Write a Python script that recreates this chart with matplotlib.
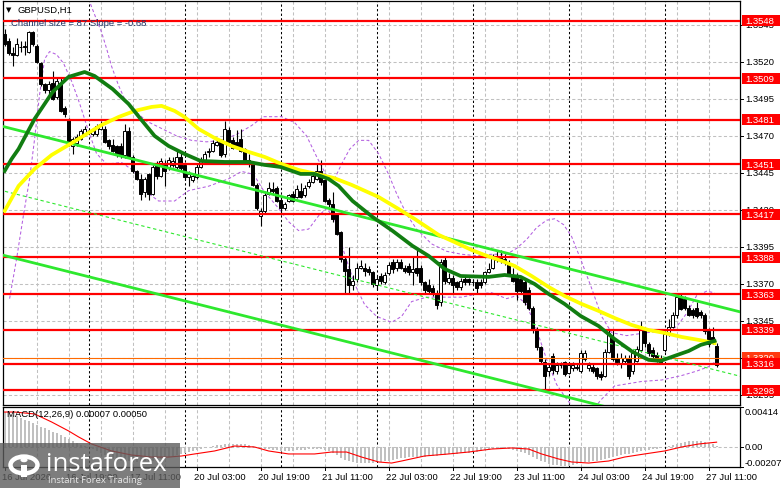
import matplotlib
matplotlib.use('Agg')
import matplotlib.pyplot as plt
import matplotlib.transforms as mtrans
from matplotlib.patches import Rectangle, Circle
import numpy as np

# ---------------- DATA ----------------
opens = [
1.3539,1.3534,1.3526,1.3525,1.3530,1.3531,1.3527,1.3540,1.3531,1.3519,
1.3505,1.3501,1.3506,1.3496,1.3506,1.3489,1.3481,1.3463,1.3465,1.3468,
1.3471,1.3472,1.3471,1.3471,1.3475,1.3475,1.3467,1.3464,1.3463,1.3463,
1.3457,1.3473,1.3456,1.3446,1.3441,1.3432,1.3444,1.3431,1.3452,1.3443,
1.3450,1.3449,1.3450,1.3449,1.3456,1.3450,1.3442,1.3440,1.3442,1.3449,
1.3453,1.3459,1.3460,1.3464,1.3466,1.3458,1.3474,1.3467,1.3466,1.3468,
1.3461,1.3454,1.3452,1.3437,1.3416,1.3419,1.3431,1.3434,1.3435,1.3427,
1.3421,1.3426,1.3431,1.3429,1.3433,1.3430,1.3436,1.3439,1.3441,1.3446,
1.3440,1.3427,1.3424,1.3417,1.3405,1.3387,1.3380,1.3369,1.3373,1.3381,
1.3381,1.3380,1.3378,1.3369,1.3375,1.3371,1.3377,1.3385,1.3381,1.3385,
1.3381,1.3382,1.3378,1.3381,1.3381,1.3371,1.3369,1.3367,1.3364,1.3358,
1.3386,1.3371,1.3374,1.3371,1.3368,1.3373,1.3373,1.3371,1.3371,1.3371,
1.3371,1.3378,1.3381,1.3386,1.3388,1.3387,1.3384,1.3376,1.3375,1.3373,
1.3371,1.3366,1.3354,1.3339,1.3327,1.3317,1.3311,1.3321,1.3311,1.3315,
1.3317,1.3310,1.3313,1.3314,1.3311,1.3319,1.3313,1.3314,1.3313,1.3309,
1.3308,1.3324,1.3334,1.3320,1.3316,1.3318,1.3320,1.3311,1.3318,1.3325,
1.3339,1.3329,1.3325,1.3322,1.3320,1.3325,1.3336,1.3341,1.3349,1.3361,
1.3360,1.3354,1.3352,1.3354,1.3351,1.3349,1.3338,1.3334,1.3328]
highs = [
1.3542,1.3536,1.3530,1.3536,1.3534,1.3534,1.3541,1.3541,1.3532,1.3520,
1.3506,1.3507,1.3514,1.3510,1.3510,1.3490,1.3482,1.3469,1.3471,1.3475,
1.3477,1.3474,1.3475,1.3478,1.3480,1.3477,1.3468,1.3468,1.3464,1.3465,
1.3478,1.3476,1.3457,1.3447,1.3444,1.3442,1.3445,1.3450,1.3453,1.3455,
1.3454,1.3456,1.3456,1.3461,1.3460,1.3451,1.3446,1.3445,1.3451,1.3456,
1.3460,1.3462,1.3467,1.3468,1.3468,1.3480,1.3476,1.3469,1.3474,1.3475,
1.3462,1.3458,1.3453,1.3438,1.3421,1.3432,1.3439,1.3439,1.3436,1.3429,
1.3425,1.3431,1.3433,1.3437,1.3438,1.3437,1.3441,1.3445,1.3452,1.3454,
1.3441,1.3428,1.3432,1.3418,1.3406,1.3389,1.3395,1.3376,1.3384,1.3386,
1.3384,1.3382,1.3379,1.3375,1.3377,1.3378,1.3385,1.3387,1.3387,1.3387,
1.3383,1.3384,1.3389,1.3393,1.3383,1.3372,1.3373,1.3369,1.3366,1.3387,
1.3389,1.3377,1.3376,1.3372,1.3374,1.3375,1.3374,1.3373,1.3373,1.3373,
1.3379,1.3384,1.3390,1.3392,1.3393,1.3390,1.3386,1.3381,1.3377,1.3375,
1.3373,1.3368,1.3355,1.3341,1.3328,1.3319,1.3316,1.3323,1.3317,1.3317,
1.3318,1.3316,1.3317,1.3316,1.3325,1.3325,1.3317,1.3316,1.3314,1.3311,
1.3326,1.3339,1.3339,1.3323,1.3323,1.3322,1.3322,1.3325,1.3328,1.3345,
1.3341,1.3331,1.3327,1.3324,1.3322,1.3338,1.3346,1.3351,1.3363,1.3363,
1.3362,1.3356,1.3354,1.3358,1.3352,1.3350,1.3340,1.3341,1.3330]
lows = [
1.3531,1.3525,1.3517,1.3524,1.3527,1.3525,1.3526,1.3531,1.3519,1.3504,
1.3499,1.3496,1.3494,1.3495,1.3486,1.3483,1.3463,1.3458,1.3463,1.3467,
1.3470,1.3471,1.3470,1.3470,1.3474,1.3465,1.3461,1.3459,1.3456,1.3455,
1.3455,1.3455,1.3445,1.3440,1.3427,1.3429,1.3427,1.3430,1.3441,1.3442,
1.3436,1.3447,1.3449,1.3447,1.3446,1.3440,1.3436,1.3439,1.3441,1.3448,
1.3452,1.3456,1.3459,1.3463,1.3456,1.3456,1.3464,1.3461,1.3461,1.3459,
1.3451,1.3449,1.3436,1.3420,1.3409,1.3418,1.3430,1.3430,1.3425,1.3419,
1.3420,1.3425,1.3425,1.3428,1.3428,1.3429,1.3435,1.3438,1.3440,1.3437,
1.3425,1.3422,1.3412,1.3403,1.3385,1.3363,1.3364,1.3366,1.3371,1.3380,
1.3375,1.3376,1.3368,1.3366,1.3370,1.3370,1.3376,1.3377,1.3379,1.3380,
1.3377,1.3376,1.3369,1.3375,1.3369,1.3364,1.3363,1.3362,1.3353,1.3355,
1.3370,1.3370,1.3364,1.3366,1.3366,1.3369,1.3369,1.3369,1.3364,1.3367,
1.3370,1.3377,1.3380,1.3385,1.3384,1.3383,1.3375,1.3371,1.3359,1.3364,
1.3356,1.3352,1.3337,1.3325,1.3316,1.3297,1.3308,1.3309,1.3309,1.3313,
1.3308,1.3309,1.3311,1.3312,1.3310,1.3318,1.3311,1.3310,1.3306,1.3305,
1.3307,1.3323,1.3318,1.3315,1.3313,1.3316,1.3306,1.3309,1.3317,1.3324,
1.3327,1.3321,1.3319,1.3317,1.3316,1.3324,1.3335,1.3340,1.3347,1.3352,
1.3352,1.3348,1.3347,1.3347,1.3347,1.3336,1.3327,1.3329,1.3314]
closes = [
1.3532,1.3526,1.3525,1.3532,1.3530,1.3530,1.3540,1.3532,1.3520,1.3505,
1.3501,1.3505,1.3495,1.3507,1.3487,1.3485,1.3465,1.3468,1.3469,1.3473,
1.3475,1.3472,1.3473,1.3477,1.3478,1.3466,1.3463,1.3460,1.3457,1.3457,
1.3473,1.3456,1.3446,1.3441,1.3431,1.3441,1.3431,1.3449,1.3443,1.3453,
1.3446,1.3454,1.3453,1.3456,1.3448,1.3442,1.3444,1.3443,1.3449,1.3453,
1.3458,1.3460,1.3465,1.3466,1.3457,1.3475,1.3466,1.3462,1.3462,1.3460,
1.3452,1.3451,1.3437,1.3421,1.3419,1.3430,1.3435,1.3433,1.3426,1.3421,
1.3424,1.3430,1.3426,1.3434,1.3429,1.3435,1.3439,1.3443,1.3446,1.3439,
1.3426,1.3424,1.3414,1.3404,1.3387,1.3379,1.3369,1.3372,1.3381,1.3382,
1.3379,1.3378,1.3370,1.3373,1.3372,1.3376,1.3383,1.3380,1.3385,1.3381,
1.3379,1.3378,1.3380,1.3377,1.3371,1.3366,1.3365,1.3364,1.3356,1.3385,
1.3372,1.3374,1.3369,1.3368,1.3372,1.3371,1.3371,1.3371,1.3367,1.3369,
1.3378,1.3380,1.3388,1.3389,1.3386,1.3386,1.3376,1.3372,1.3365,1.3365,
1.3358,1.3354,1.3339,1.3327,1.3318,1.3308,1.3314,1.3312,1.3315,1.3315,
1.3309,1.3315,1.3315,1.3313,1.3323,1.3323,1.3315,1.3311,1.3308,1.3307,
1.3324,1.3337,1.3319,1.3317,1.3320,1.3320,1.3308,1.3323,1.3326,1.3339,
1.3330,1.3323,1.3321,1.3319,1.3317,1.3336,1.3341,1.3349,1.3361,1.3353,
1.3354,1.3349,1.3349,1.3348,1.3349,1.3338,1.3329,1.3331,1.3315]

# moving averages (bar index, price)
ma_green_idx = [0, 1.75, 3.5, 7.5, 12, 16, 20, 22.5, 27, 31, 34, 37.5, 41, 45, 49, 55, 61, 65, 69, 74,
                77.5, 81, 83.5, 87, 92, 97, 102, 106, 110, 114, 121, 125, 129, 132.5, 136, 140, 144,
                148.5, 152.5, 157, 161, 164, 167.5, 171, 174, 177.5]
ma_green_val = [1.34463, 1.34544, 1.34612, 1.34815, 1.34997, 1.35099, 1.35132, 1.35105, 1.35017, 1.34916,
                1.34815, 1.34700, 1.34632, 1.34578, 1.34531, 1.34524, 1.34524, 1.34504, 1.34490, 1.34443,
                1.34443, 1.34409, 1.34362, 1.34260, 1.34152, 1.34058, 1.33956, 1.33889, 1.33801, 1.33753,
                1.33747, 1.33760, 1.33747, 1.33699, 1.33632, 1.33564, 1.33483, 1.33415, 1.33327, 1.33240,
                1.33186, 1.33179, 1.33213, 1.33246, 1.33287, 1.33314]
ma_yellow_idx = [0, 3.5, 7.5, 11.75, 16, 20.5, 24.25, 28.5, 32.5, 36.75, 39.25, 42.5, 45, 48.5, 52.5,
                 56.75, 61, 65, 69.25, 73.5, 78, 82.25, 86.75, 93.5, 98.5, 102.5, 108.5, 113.5, 116.75,
                 120, 124.25, 127.5, 131.75, 136, 140, 144.25, 148.5, 152.5, 156.75, 161, 165, 169.25,
                 173.5, 177.5]
ma_yellow_val = [1.34193, 1.34362, 1.34477, 1.34571, 1.34639, 1.34713, 1.34774, 1.34828, 1.34869, 1.34896,
                 1.34903, 1.34869, 1.34828, 1.34747, 1.34686, 1.34632, 1.34592, 1.34558, 1.34510, 1.34470,
                 1.34443, 1.34416, 1.34369, 1.34287, 1.34206, 1.34139, 1.34031, 1.33970, 1.33929, 1.33895,
                 1.33855, 1.33821, 1.33753, 1.33679, 1.33618, 1.33564, 1.33517, 1.33469, 1.33422, 1.33388,
                 1.33368, 1.33341, 1.33321, 1.33300]

# bands (purple dashed)
band_up_idx = [20.5, 22.5, 24.25, 25.5, 26.75, 28.5, 30, 32.5, 35.5, 39.25, 43, 46.75, 50.5, 54.25, 58,
               61.75, 64.75, 69.25, 72.5, 75.5, 78, 80.5, 82.5, 84.25, 86.25, 88.5, 91, 93.5, 96, 98,
               100.5, 103, 106.75, 110.5, 114.25, 118, 121.75, 125.5, 128, 130.5, 133, 135.5, 137.5,
               139.75, 141.75, 144.25, 146.75, 149.25, 151.75, 155.5, 160.5, 165, 168, 170.5, 173,
               175.5, 177.5]
band_up_val = [1.3566, 1.3552, 1.3540, 1.3529, 1.3517, 1.3504, 1.3495, 1.3487, 1.3480, 1.3475, 1.3470,
               1.3467, 1.3466, 1.3467, 1.3471, 1.3477, 1.3483, 1.3483, 1.3479, 1.3470, 1.3456, 1.3443,
               1.3441, 1.3451, 1.3461, 1.3467, 1.3467, 1.3458, 1.3444, 1.3431, 1.3417, 1.3407, 1.3397,
               1.3392, 1.3390, 1.3389, 1.3390, 1.3390, 1.3394, 1.3400, 1.3408, 1.3413, 1.3414, 1.3410,
               1.3402, 1.3385, 1.3367, 1.3348, 1.3337, 1.3335, 1.3337, 1.3338, 1.3341, 1.3350, 1.3362,
               1.3365, 1.3364]
band_low_idx = [1.25, 3, 4.75, 6.25, 7.5, 8.75, 10, 11.25, 13, 14.75, 16.75, 18.75, 21, 23, 25.5, 29.25,
                32.5, 35, 38.5, 42.5, 46, 51, 56, 59.25, 62.25, 64.75, 68.5, 71, 73.5, 76, 78.5, 80.5,
                82.5, 85, 87.5, 90, 93, 96.75, 99.25, 101.75, 105.5, 110.5, 114.25, 118, 121.75, 125.5,
                128, 130.5, 133, 135.5, 138, 140.5, 143, 146.75, 149.25, 152.5, 159.25, 164.25, 169.25,
                173, 176, 178]
band_low_val = [1.3360, 1.3387, 1.3417, 1.3441, 1.3468, 1.3498, 1.3522, 1.3527, 1.3525, 1.3519, 1.3507,
                1.3492, 1.3473, 1.3458, 1.3451, 1.3452, 1.3446, 1.3433, 1.3426, 1.3426, 1.3433, 1.3436,
                1.3441, 1.3446, 1.3444, 1.3433, 1.3421, 1.3412, 1.3406, 1.3407, 1.3416, 1.3421, 1.3414,
                1.3390, 1.3370, 1.3356, 1.3348, 1.3344, 1.3348, 1.3358, 1.3361, 1.3361, 1.3361, 1.3363,
                1.3364, 1.3360, 1.3362, 1.3356, 1.3339, 1.3319, 1.3302, 1.3292, 1.3284, 1.3284, 1.3292,
                1.3301, 1.3304, 1.3305, 1.3308, 1.3311, 1.3314, 1.3318]

# regression channel
channel_start = 1.34761      # upper line at first bar
channel_slope_pips = -0.68
channel_size_pips = 87

levels = [1.3548, 1.3509, 1.3481, 1.3451, 1.3417, 1.3388, 1.3363, 1.3339, 1.3316, 1.3298]
ask_price = 1.3320
price_ticks = [1.3545, 1.3520, 1.3495, 1.3470, 1.3445, 1.3420, 1.3395, 1.3370, 1.3345, 1.3320, 1.3295]

# MACD (units of 1e-4)
macd_hist = [36,35,33,32,30,28,27,25,23,21,
             20,18,16,14,12,10,8,6,4,2,
             1,0,-2,-4,-6,-8,-10,-12,-13,-14,
             -14,-15,-15,-16,-16,-15,-15,-14,-13,-12,
             -11,-10,-9,-8,-7,-6,-5,-4,-3,-2,
             -1,0,1,2,2,3,3,3,3,3,
             3,2,1,0,-1,-2,-2,-3,-3,-4,
             -4,-4,-4,-3,-3,-3,-2,-2,-2,-2,
             -3,-4,-6,-8,-11,-13,-15,-16,-17,-17,
             -17,-17,-17,-16,-16,-15,-14,-13,-12,-11,
             -11,-10,-10,-10,-10,-10,-9,-9,-9,-8,
             -8,-7,-7,-7,-6,-6,-6,-5,-5,-4,
             -3,-3,-2,-2,-1,-1,-2,-3,-4,-5,
             -6,-8,-10,-12,-14,-16,-18,-19,-19,-20,
             -20,-20,-19,-18,-17,-16,-16,-15,-14,-13,
             -12,-11,-10,-9,-8,-7,-7,-6,-5,-4,
             -3,-3,-2,-2,-1,0,1,2,3,4,
             5,6,6,6,6,5,4,3,0.7]
sig_idx = [0, 2.5, 7.5, 11.75, 16, 18.5, 21.75, 26.75, 31.75, 36.75, 41, 44.25, 47.5, 52.5, 57.5, 62.5,
           66, 71, 77.5, 81.75, 85.5, 89.25, 93.5, 96.75, 99.25, 105, 111, 116, 121.75, 126.75, 131,
           134.25, 138.5, 141.75, 146, 151, 155, 160, 165, 169.25, 173.5, 178]
sig_val = [36.2, 36.2, 34.2, 25.9, 16.6, 10.4, 3.1, -4.1, -8.3, -10.4, -10.4, -9.3, -7.2, -4.1, 1.0, 0.0,
           -4.1, -7.2, -7.2, -5.2, -5.2, -10.4, -15.5, -16.6, -14.5, -9.3, -7.2, -5.2, -2.1, -1.0, -2.1,
           -7.2, -12.4, -15.5, -16.6, -14.5, -10.4, -7.2, -4.1, 0.0, 3.1, 5.0]
macd_top, macd_bottom = 0.00414, -0.00207

x_label_idx = [0, 16, 32, 48, 64, 80, 96, 112, 128, 144, 160, 176]
x_labels = ['16 Jul 2026', '16 Jul 19:00', '17 Jul 11:00', '20 Jul 03:00', '20 Jul 19:00',
            '21 Jul 11:00', '22 Jul 03:00', '22 Jul 19:00', '23 Jul 11:00', '24 Jul 03:00',
            '24 Jul 19:00', '27 Jul 11:00']
day_sep_idx = [21, 45, 69, 93, 117, 141, 165]

# ---------------- FIGURE ----------------
W, H = 781, 489
fig = plt.figure(figsize=(W / 100, H / 100), dpi=100)
fig.patch.set_facecolor('white')
FONT = ['Liberation Sans', 'DejaVu Sans']
FS = 6.8

def fx(x):
    return x / W

def fy(y):
    return 1 - y / H

ax = fig.add_axes([fx(3), fy(406), fx(740) - fx(3), fy(2) - fy(406)])
axm = fig.add_axes([fx(3), fy(468), fx(740) - fx(3), fy(408) - fy(468)])
n = len(closes)
xlim = (-0.4, 183.85)
for a in (ax, axm):
    a.set_xlim(*xlim)
    a.set_xticks([])
    a.set_yticks([])
    a.set_facecolor('white')
    for s in a.spines.values():
        s.set_color('black')
        s.set_linewidth(0.9)
ax.set_ylim(1.32881, 1.35612)
axm.set_ylim(macd_bottom, macd_top)

grid_kw = dict(color='#c0c0c0', lw=0.75, ls=(0, (3, 2.2)), zorder=1)
sep_kw = dict(color='black', lw=0.75, ls=(0, (2.2, 2.2)), zorder=1.5)
for a in (ax, axm):
    for gi in range(8, 184, 8):
        a.axvline(gi, **grid_kw)
    for d in day_sep_idx:
        a.axvline(d, **sep_kw)
for p in price_ticks:
    ax.axhline(p, **grid_kw)
axm.axhline(0, **grid_kw)

# bands
ax.plot(band_up_idx, band_up_val, color='#b35fe0', lw=0.75, ls=(0, (3, 2.2)), zorder=2)
ax.plot(band_low_idx, band_low_val, color='#b35fe0', lw=0.75, ls=(0, (3, 2.2)), zorder=2)

# candles
idx = np.arange(n)
o = np.array(opens); h = np.array(highs); l = np.array(lows); c = np.array(closes)
ax.vlines(idx, l, h, color='black', lw=0.8, zorder=4)
body_bottom = np.minimum(o, c)
body_h = np.maximum(np.abs(c - o), 0.00004)
cols = ['white' if cc > oo else 'black' for oo, cc in zip(o, c)]
ax.bar(idx, body_h, bottom=body_bottom, width=0.72, color=cols, edgecolor='black',
       linewidth=0.7, zorder=5)

# levels
for p in levels:
    ax.axhline(p, color='#ff0000', lw=1.6, zorder=6)
ax.axhline(ask_price, color='#ff6a00', lw=0.8, zorder=5.9)

# channel
cx = np.array([xlim[0] - 1, xlim[1] + 1])
upper = channel_start + channel_slope_pips * 1e-4 * cx
ax.plot(cx, upper, color='#2ee82e', lw=2.0, zorder=6.5, solid_capstyle='butt')
ax.plot(cx, upper - channel_size_pips * 1e-4, color='#2ee82e', lw=2.0, zorder=6.5)
ax.plot(cx, upper - channel_size_pips * 0.5e-4, color='#2ee82e', lw=0.8,
        ls=(0, (3, 2.5)), zorder=6.5)

# moving averages
ax.plot(ma_yellow_idx, ma_yellow_val, color='#ffff00', lw=2.7, zorder=7, solid_joinstyle='round')
ax.plot(ma_green_idx, ma_green_val, color='#117d11', lw=2.7, zorder=7.2, solid_joinstyle='round')

# right price scale
blend = mtrans.blended_transform_factory(fig.transFigure, ax.transData)
ppx = (ax.get_ylim()[1] - ax.get_ylim()[0]) / 404.0
for p in price_ticks:
    ax.text(fx(745), p, f'{p:.4f}', transform=blend, fontsize=FS, family=FONT,
            va='center', ha='left', color='black', clip_on=False, zorder=20)
    ax.plot([fx(740), fx(743)], [p, p], transform=blend, color='black', lw=0.7,
            clip_on=False, zorder=20)
bh = 11 * ppx
ax.add_patch(Rectangle((fx(742), ask_price - bh / 2), fx(780) - fx(742), bh, transform=blend,
                       facecolor='#ff3a10', edgecolor='none', clip_on=False, zorder=21))
ax.text(fx(745), ask_price, f'{ask_price:.4f}', transform=blend, fontsize=FS, family=FONT,
        va='center', ha='left', color='white', clip_on=False, zorder=21.5)
for k, p in enumerate(levels):
    ax.add_patch(Rectangle((fx(742), p - bh / 2), fx(780) - fx(742), bh, transform=blend,
                           facecolor='#ff0000', edgecolor='none', clip_on=False, zorder=22 + k))
    ax.text(fx(745), p, f'{p:.4f}', transform=blend, fontsize=FS, family=FONT,
            va='center', ha='left', color='white', clip_on=False, zorder=22.5 + k)

# MACD
axm.bar(idx, np.array(macd_hist) * 1e-4, width=0.5, color='#c0c0c0', zorder=3)
axm.plot(sig_idx, np.array(sig_val) * 1e-4, color='#ff0000', lw=0.8, zorder=4)
blendm = mtrans.blended_transform_factory(fig.transFigure, axm.transData)
for v, lab, va in [(macd_top, f'{macd_top:.5f}', 'top'), (0.0, '0.00', 'center'),
                   (macd_bottom, f'{macd_bottom:.5f}', 'bottom')]:
    axm.text(fx(745), v, lab, transform=blendm, fontsize=FS, family=FONT, va=va, ha='left',
             color='black', clip_on=False, zorder=20)
    axm.plot([fx(740), fx(743)], [v, v], transform=blendm, color='black', lw=0.7,
             clip_on=False, zorder=20)

# x labels
blendx = mtrans.blended_transform_factory(axm.transData, fig.transFigure)
for xi, lab in zip(x_label_idx, x_labels):
    axm.text(xi - 0.6, fy(478), lab, transform=blendx, fontsize=FS, family=FONT,
             va='center', ha='left', color='black', clip_on=False, zorder=20)
    axm.plot([xi, xi], [fy(468), fy(471)], transform=blendx, color='black', lw=0.7,
             clip_on=False, zorder=20)

# titles
fig.text(fx(6), fy(10), '\u25BC', fontsize=5, family=['DejaVu Sans'], va='center', ha='left',
         color='black')
fig.text(fx(18), fy(10), 'GBPUSD,H1', fontsize=FS, family=FONT, va='center', ha='left', color='black')
fig.text(fx(11), fy(23),
         f'Channel size = {channel_size_pips} Slope = {channel_slope_pips:.2f}',
         fontsize=FS, family=FONT, va='center', ha='left', color='#1f3566')
fig.text(fx(7), fy(415),
         f'MACD(12,26,9) {macd_hist[-1] * 1e-4:.5f} {sig_val[-1] * 1e-4:.5f}',
         fontsize=FS, family=FONT, va='center', ha='left', color='black')

# watermark
fig.add_artist(Rectangle((0, fy(489)), fx(180), fy(444) - fy(489), transform=fig.transFigure,
                         facecolor='#5c5c5c', edgecolor='none', alpha=0.8, zorder=30))
fig.add_artist(Circle((fx(24), fy(466)), 13.5 / W, transform=fig.transFigure, facecolor='none',
                      edgecolor='white', lw=3.2, zorder=31))
fig.add_artist(Circle((fx(24), fy(461)), 3.6 / W, transform=fig.transFigure, facecolor='white',
                      edgecolor='none', zorder=31))
fig.add_artist(Rectangle((fx(21), fy(478)), fx(6), fy(466) - fy(478), transform=fig.transFigure,
                         facecolor='white', edgecolor='none', zorder=31))
fig.text(fx(46), fy(465), 'instaforex', fontsize=18.5, family=['Open Sans', 'DejaVu Sans'],
         color='white', va='center', ha='left', zorder=32)
fig.text(fx(48), fy(481), 'Instant Forex Trading', fontsize=6.8, family=['Open Sans', 'DejaVu Sans'],
         color='#e8e8e8', va='center', ha='left', zorder=32)

fig.savefig('out.png', dpi=100)
